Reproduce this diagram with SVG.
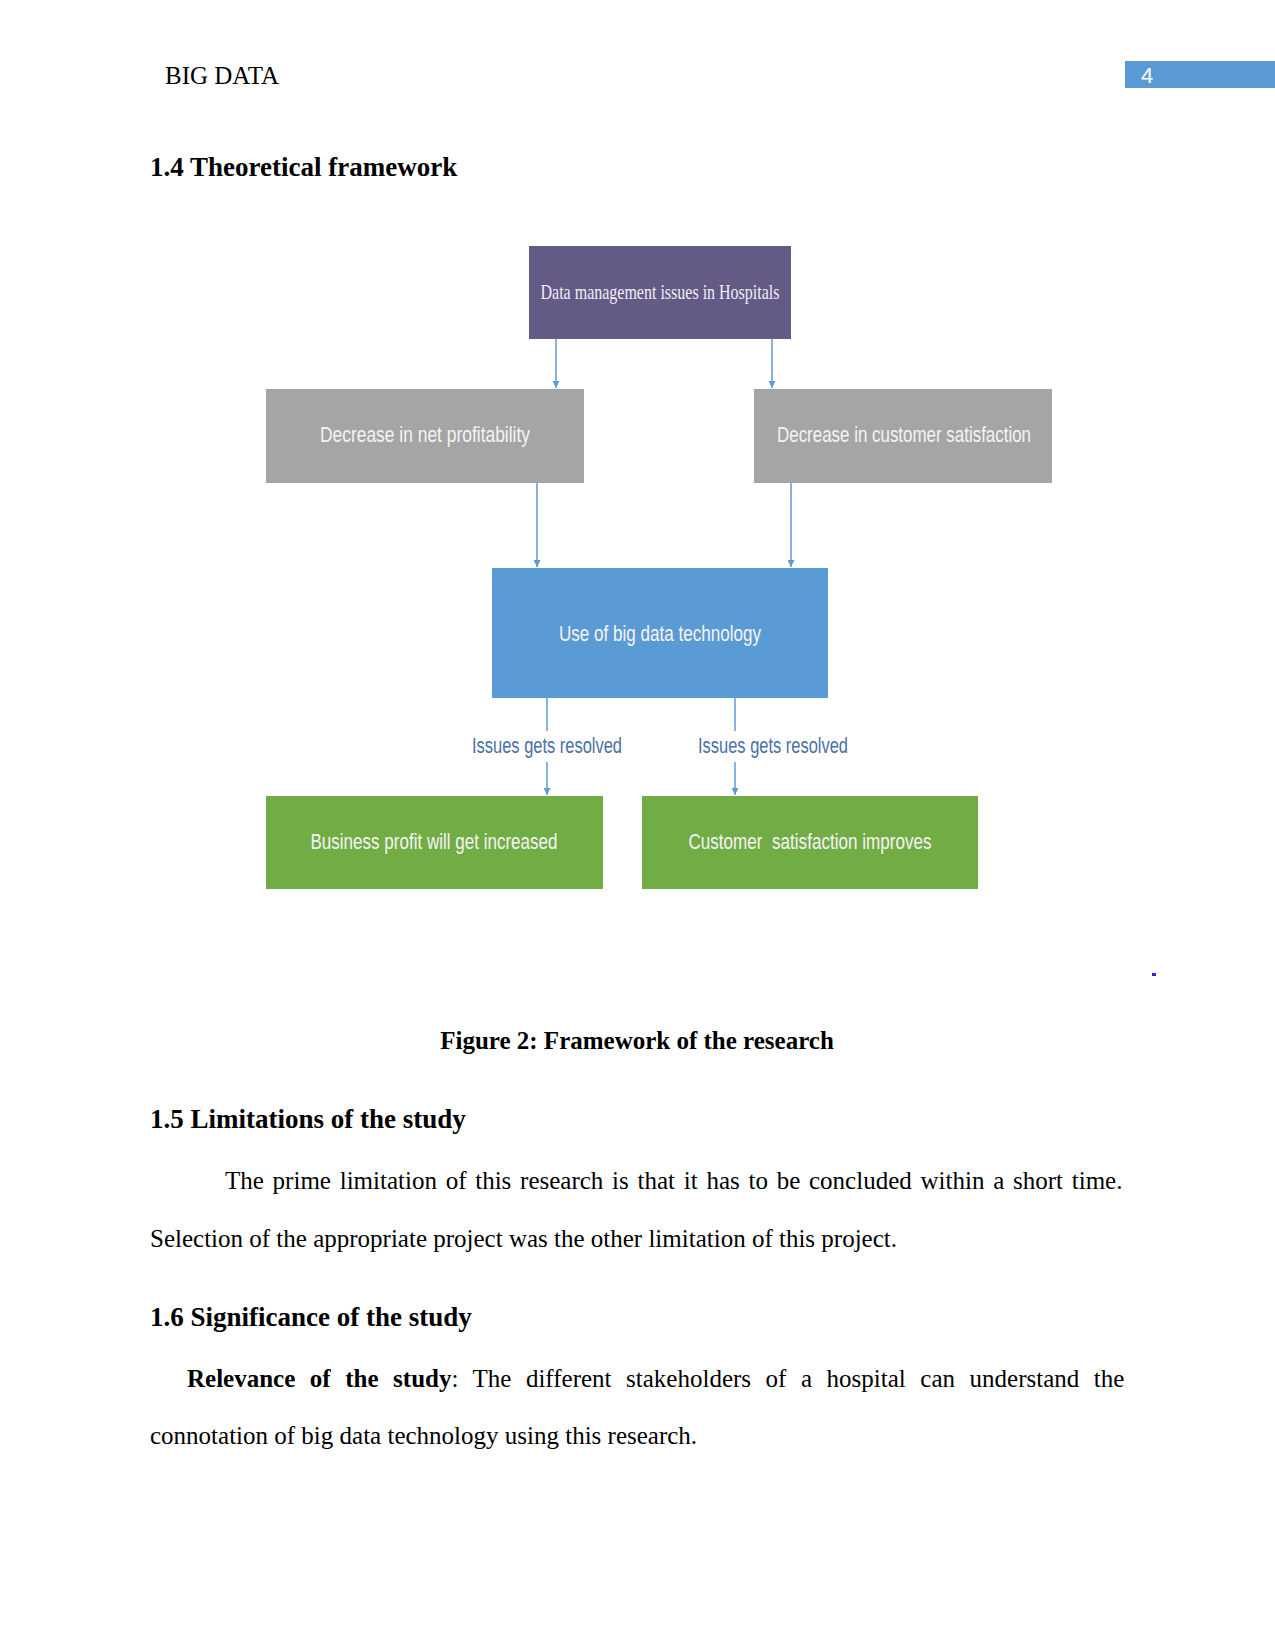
<svg xmlns="http://www.w3.org/2000/svg" width="1275" height="1650" viewBox="0 0 1275 1650">
<defs>
<style>
.serif{font-family:"Liberation Serif","Times New Roman",serif;fill:#000}
.body{font-size:25px}
.head{font-size:27px;font-weight:bold}
.bold{font-weight:bold}
.node text{font-family:"Liberation Sans",Arial,sans-serif;font-size:22px;fill:#f4f4f4;text-anchor:middle}
.node .ttl{font-family:"Liberation Serif","Times New Roman",serif;font-size:22px;fill:#f0eef6}
.conn line{stroke:#5b9bd5;stroke-width:1.5;fill:none}
.lbl{font-family:"Liberation Sans",Arial,sans-serif;font-size:22px;fill:#4a6fa8;text-anchor:middle}
</style>
<marker id="ah" viewBox="0 0 10 10" refX="10" refY="5" markerWidth="7" markerHeight="7" markerUnits="userSpaceOnUse" orient="auto">
<path d="M0,0 L10,5 L0,10 z" fill="#5b9bd5"/>
</marker>
</defs>
<rect width="1275" height="1650" fill="#fff"/>

<!-- header -->
<text class="serif body" x="165" y="84">BIG DATA</text>
<rect x="1125" y="61" width="150" height="27" fill="#5b9bd5"/>
<text x="1141" y="83" font-family="Liberation Sans,Arial,sans-serif" font-size="22" fill="#fff">4</text>

<text class="serif head" x="150" y="176">1.4 Theoretical framework</text>

<!-- connectors -->
<g id="connectors" class="conn">
<line x1="556" y1="339" x2="556" y2="388" marker-end="url(#ah)"/>
<line x1="772" y1="339" x2="772" y2="388" marker-end="url(#ah)"/>
<line x1="537" y1="483" x2="537" y2="567" marker-end="url(#ah)"/>
<line x1="791" y1="483" x2="791" y2="567" marker-end="url(#ah)"/>
<line x1="547" y1="698" x2="547" y2="731"/>
<line x1="547" y1="762" x2="547" y2="795" marker-end="url(#ah)"/>
<line x1="735" y1="698" x2="735" y2="731"/>
<line x1="735" y1="762" x2="735" y2="795" marker-end="url(#ah)"/>
<text class="lbl" x="547" y="753" textLength="150" lengthAdjust="spacingAndGlyphs">Issues gets resolved</text>
<text class="lbl" x="773" y="753" textLength="150" lengthAdjust="spacingAndGlyphs">Issues gets resolved</text>
</g>

<!-- nodes -->
<g id="node-data-issues" class="node">
<rect x="529" y="246" width="262" height="93" fill="#635a86"/>
<text class="ttl" x="660" y="299" textLength="239" lengthAdjust="spacingAndGlyphs">Data management issues in Hospitals</text>
</g>
<g id="node-profitability" class="node">
<rect x="266" y="389" width="318" height="94" fill="#a5a5a5"/>
<text x="425" y="442" textLength="210" lengthAdjust="spacingAndGlyphs">Decrease in net profitability</text>
</g>
<g id="node-satisfaction" class="node">
<rect x="754" y="389" width="298" height="94" fill="#a5a5a5"/>
<text x="904" y="442" textLength="254" lengthAdjust="spacingAndGlyphs">Decrease in customer satisfaction</text>
</g>
<g id="node-bigdata" class="node">
<rect x="492" y="568" width="336" height="130" fill="#5b9bd5"/>
<text x="660" y="641" font-size="23" textLength="202" lengthAdjust="spacingAndGlyphs">Use of big data technology</text>
</g>
<g id="node-profit-up" class="node">
<rect x="266" y="796" width="337" height="93" fill="#72ac45"/>
<text x="434" y="849" textLength="247" lengthAdjust="spacingAndGlyphs">Business profit will get increased</text>
</g>
<g id="node-satisfaction-up" class="node">
<rect x="642" y="796" width="336" height="93" fill="#72ac45"/>
<text x="810" y="849" xml:space="preserve" textLength="243" lengthAdjust="spacingAndGlyphs">Customer  satisfaction improves</text>
</g>

<rect x="1152" y="973" width="4" height="3" fill="#2a2ad8"/>

<text class="serif body bold" x="637" y="1049" text-anchor="middle">Figure 2: Framework of the research</text>

<text class="serif head" x="150" y="1128">1.5 Limitations of the study</text>
<text class="serif body" x="225" y="1189" word-spacing="2.5">The prime limitation of this research is that it has to be concluded within a short time.</text>
<text class="serif body" x="150" y="1247">Selection of the appropriate project was the other limitation of this project.</text>

<text class="serif head" x="150" y="1326">1.6 Significance of the study</text>
<text class="serif body" x="187" y="1387" word-spacing="8.3"><tspan font-weight="bold">Relevance of the study</tspan>: The different stakeholders of a hospital can understand the</text>
<text class="serif body" x="150" y="1444">connotation of big data technology using this research.</text>
</svg>
